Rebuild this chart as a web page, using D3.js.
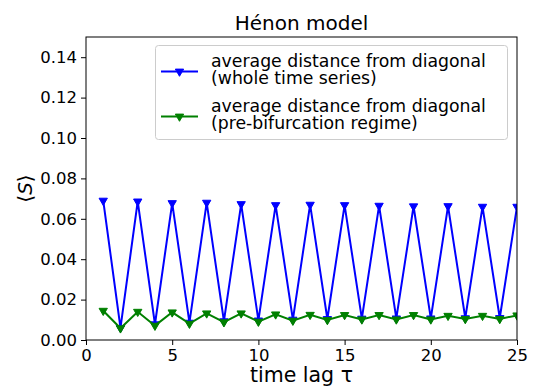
<!DOCTYPE html>
<html><head><meta charset="utf-8">
<script src="https://cdn.jsdelivr.net/npm/d3@7"></script>
<style>body{margin:0;background:#fff}svg{display:block;font-family:"DejaVu Sans",sans-serif}</style>
</head><body>
<script>
const lags = d3.range(1, 26);
const wholeSeries = [0.0690,0.0060,0.0686,0.0078,0.0678,0.0086,0.0680,0.0093,0.0673,0.0097,0.0668,0.0101,0.0670,0.0104,0.0668,0.0106,0.0665,0.0107,0.0662,0.0107,0.0663,0.0108,0.0660,0.0109,0.0660];
const preBifurcation = [0.0145,0.0058,0.0140,0.0071,0.0137,0.0081,0.0132,0.0088,0.0132,0.0091,0.0127,0.0096,0.0125,0.0099,0.0124,0.0102,0.0124,0.0102,0.0124,0.0102,0.0120,0.0104,0.0120,0.0104,0.0122];
const xTicks = [0,5,10,15,20,25];
const yTicks = [0,0.02,0.04,0.06,0.08,0.10,0.12,0.14];
const seriesNames = ["average distance from diagonal|(whole time series)","average distance from diagonal|(pre-bifurcation regime)"];
const seriesColors = ["#0000ff","#008000"];

const W=533,H=390, L=86,R=517,T=37,B=340;
const svg=d3.select("body").append("svg").attr("width",W).attr("height",H);
const x=d3.scaleLinear().domain([0,25]).range([L,R]);
const y=d3.scaleLinear().domain([0,0.15]).range([B,T]);

const xa=svg.append("g").attr("transform",`translate(0,${B})`).call(d3.axisBottom(x).tickValues(xTicks).tickSize(5).tickPadding(4).tickFormat(d3.format("d")));
const ya=svg.append("g").attr("transform",`translate(${L},0)`).call(d3.axisLeft(y).tickValues(yTicks).tickSize(5).tickPadding(4).tickFormat(d3.format(".2f")));
[xa,ya].forEach(g=>{g.select(".domain").remove();g.selectAll("text").attr("font-size",16.5).attr("fill","#000").attr("font-family","DejaVu Sans");g.selectAll("line").attr("stroke","#000").attr("stroke-width",1);});

svg.append("clipPath").attr("id","c").append("rect").attr("x",L).attr("y",T-10).attr("width",R-L).attr("height",B-T+10);
const tri=d3.symbol().type(d3.symbolTriangle).size(30);
const data=[wholeSeries,preBifurcation];
const plot=svg.append("g").attr("clip-path","url(#c)");
data.forEach((vals,i)=>{
  const pts=lags.map((l,j)=>[l,vals[j]]);
  plot.append("path").attr("d",d3.line().x(d=>x(d[0])).y(d=>y(d[1]))(pts)).attr("fill","none").attr("stroke",seriesColors[i]).attr("stroke-width",2);
  plot.selectAll(null).data(pts).enter().append("path").attr("d",tri).attr("transform",d=>`translate(${x(d[0])},${y(d[1])}) rotate(180)`).attr("fill",seriesColors[i]).attr("stroke",seriesColors[i]).attr("stroke-width",1);
});

svg.append("rect").attr("x",L).attr("y",T).attr("width",R-L).attr("height",B-T).attr("fill","none").attr("stroke","#000").attr("stroke-width",1);

// legend
const lg=svg.append("g");
lg.append("rect").attr("x",155.5).attr("y",45.5).attr("width",352).attr("height",94).attr("rx",3).attr("fill","#fff").attr("fill-opacity",0.8).attr("stroke","#ccc");
[[71.5,66.5],[116.5,111.5]].forEach((p,i)=>{
  lg.append("line").attr("x1",161).attr("x2",198).attr("y1",p[0]).attr("y2",p[0]).attr("stroke",seriesColors[i]).attr("stroke-width",2);
  lg.append("path").attr("d",tri).attr("transform",`translate(179.5,${p[0]}) rotate(180)`).attr("fill",seriesColors[i]).attr("stroke",seriesColors[i]).attr("stroke-width",1);
  const parts=seriesNames[i].split("|");
  const t=lg.append("text").attr("x",211).attr("y",p[1]).attr("font-size",17.3);
  t.append("tspan").attr("x",211).attr("y",p[1]).text(parts[0]);
  t.append("tspan").attr("x",211).attr("y",p[1]+17.5).text(parts[1]);
});

svg.append("text").attr("x",(L+R)/2).attr("y",30).attr("text-anchor","middle").attr("font-size",20).text("Hénon model");
svg.append("text").attr("x",(L+R)/2).attr("y",382).attr("text-anchor","middle").attr("font-size",20.5).text("time lag τ");
const yl=svg.append("text").attr("transform",`translate(32,${(T+B)/2}) rotate(-90)`).attr("text-anchor","middle").attr("font-size",20);
yl.append("tspan").text("⟨");
yl.append("tspan").attr("font-style","italic").text("S");
yl.append("tspan").text("⟩");
</script>
</body></html>
